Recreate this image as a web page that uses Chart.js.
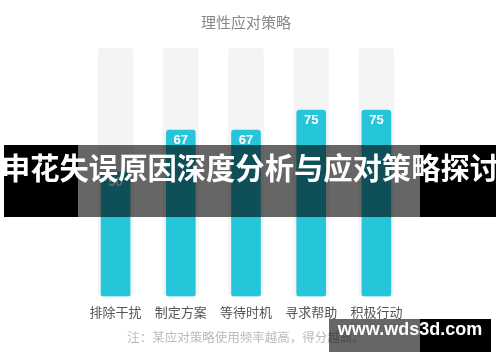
<!DOCTYPE html>
<html>
<head>
<meta charset="utf-8">
<script src="https://cdn.jsdelivr.net/npm/chart.js@4"></script>
<style>
  html, body { margin: 0; padding: 0; background: #fff; }
  #wrap { position: relative; width: 500px; height: 362px; overflow: hidden; }
  canvas { position: absolute; left: 0; top: 0; }
  .band { position: absolute; }
  #banner-text {
    position: absolute; left: -20px; top: 145px; width: 540px; height: 72px;
    line-height: 72px; text-align: center; color: #fff;
    font: bold 29.3px "Noto Sans CJK SC", sans-serif; white-space: nowrap; letter-spacing: 0;
  }
  #mark-text {
    position: absolute; left: 329px; top: 319px; width: 162px; height: 33px;
    line-height: 33px; text-align: center; color: #fff;
    font: bold 18px "Liberation Sans", Arial, sans-serif;
  }
</style>
</head>
<body>
<div id="wrap">
  <canvas id="strategyChart" width="500" height="362"></canvas>
  <!-- 横幅 -->
  <div class="band" style="left:4px;top:145px;width:74px;height:72px;background:#000"></div>
  <div class="band" style="left:78px;top:145px;width:342px;height:72px;background:rgba(0,0,0,0.6)"></div>
  <div class="band" style="left:420px;top:145px;width:76px;height:72px;background:#000"></div>
  <div id="banner-text">申花失误原因深度分析与应对策略探讨</div>
  <!-- 水印 -->
  <div class="band" style="left:329px;top:319px;width:91px;height:33px;background:rgba(0,0,0,0.6)"></div>
  <div class="band" style="left:420px;top:319px;width:71px;height:33px;background:#000"></div>
  <div id="mark-text">www.wds3d.com</div>
</div>
<script>
const categories = ['排除干扰', '制定方案', '等待时机', '寻求帮助', '积极行动'];
const scores = [50, 67, 67, 75, 75];
const fullScores = [100, 100, 100, 100, 100];
const chartTitle = '理性应对策略';
const noteText = '注：某应对策略使用频率越高，得分越高。';

// 柱顶数值
const valueLabels = {
  id: 'valueLabels',
  afterDatasetsDraw(chart) {
    const ctx = chart.ctx;
    const meta = chart.getDatasetMeta(0);
    ctx.save();
    ctx.fillStyle = '#fff';
    ctx.font = 'bold 13px "Liberation Sans", Arial, sans-serif';
    ctx.textAlign = 'center';
    ctx.textBaseline = 'middle';
    meta.data.forEach((bar, i) => {
      ctx.fillText(scores[i], bar.x, bar.y + 10);
    });
    ctx.restore();
  }
};

const ctx = document.getElementById('strategyChart').getContext('2d');
new Chart(ctx, {
  type: 'bar',
  data: {
    labels: categories,
    datasets: [
      {
        data: scores,
        backgroundColor: '#26c6da',
        barThickness: 29,
        borderRadius: 3,
        borderSkipped: false
      },
      {
        data: fullScores,
        backgroundColor: '#f4f4f4',
        barThickness: 35,
        borderRadius: 4,
        borderSkipped: false
      }
    ]
  },
  options: {
    responsive: false,
    animation: false,
    layout: { padding: { left: 83, right: 91, top: 0, bottom: 0 } },
    plugins: {
      legend: { display: false },
      tooltip: { enabled: false },
      title: {
        display: true,
        text: chartTitle,
        color: '#888',
        font: { size: 15, family: '"Noto Sans CJK SC", sans-serif', weight: 'normal' },
        padding: { top: 13, bottom: 17 }
      },
      subtitle: {
        display: true,
        position: 'bottom',
        text: noteText,
        color: '#bbb',
        font: { size: 12.5, family: '"Noto Sans CJK SC", sans-serif' },
        padding: { top: 2, bottom: 17 }
      }
    },
    scales: {
      x: {
        grouped: false,
        grid: { display: false, drawTicks: false },
        border: { display: false },
        ticks: {
          color: '#555',
          padding: 8,
          font: { size: 13, family: '"Noto Sans CJK SC", sans-serif' }
        }
      },
      y: {
        display: false,
        min: 0,
        max: 100
      }
    },
    datasets: { bar: { grouped: false } }
  },
  plugins: [valueLabels]
});
</script>
</body>
</html>
